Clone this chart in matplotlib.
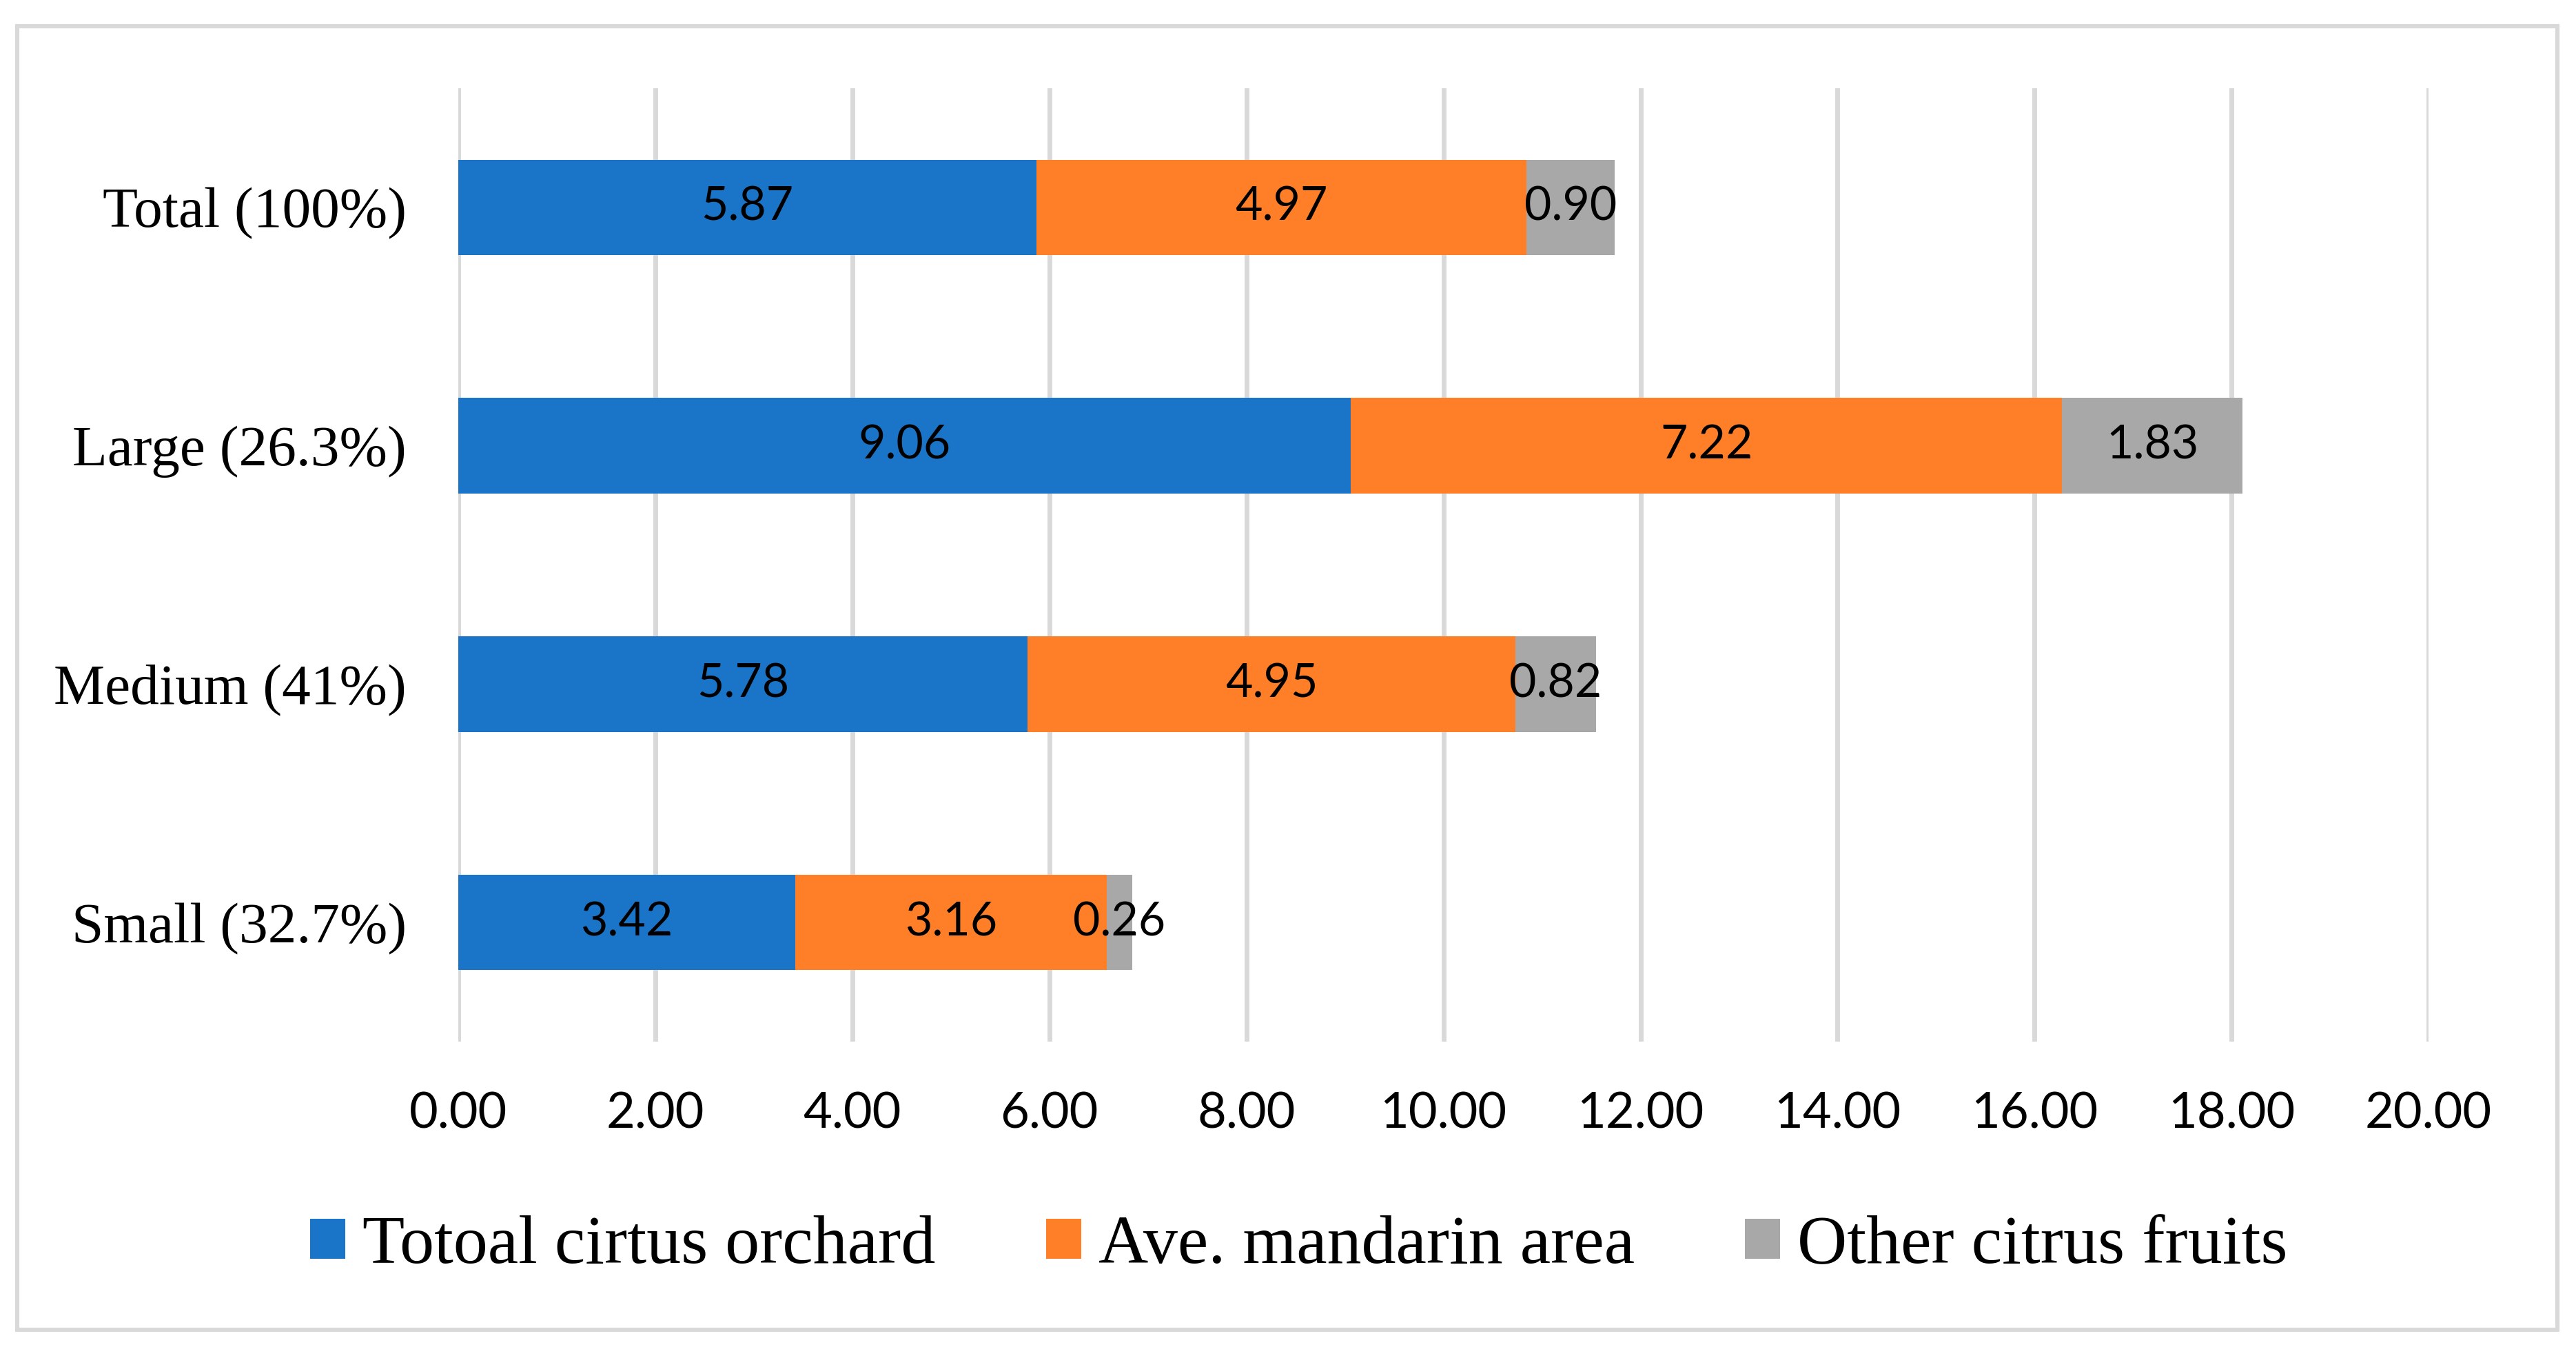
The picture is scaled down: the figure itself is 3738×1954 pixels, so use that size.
import matplotlib
matplotlib.use("Agg")
import matplotlib.pyplot as plt
from matplotlib.patches import Rectangle

categories = ["Small (32.7%)", "Medium (41%)", "Large (26.3%)", "Total (100%)"]
total_orchard = [3.42, 5.78, 9.06, 5.87]
mandarin_area = [3.16, 4.95, 7.22, 4.97]
other_citrus = [0.26, 0.82, 1.83, 0.90]
series_names = ["Totoal cirtus orchard", "Ave. mandarin area", "Other citrus fruits"]
xticks = [0, 2, 4, 6, 8, 10, 12, 14, 16, 18, 20]

blue = "#1A75C9"
orange = "#FE7F27"
grey = "#A8A8A8"
gridgrey = "#D9D9D9"

fig = plt.figure(figsize=(3738 / 200, 1954 / 200), dpi=200)
ax = fig.add_axes([0.1779, 0.2267, 0.7649, 0.7078])

y = list(range(len(categories)))
left2 = [a + b for a, b in zip(total_orchard, mandarin_area)]
h = 0.40
b1 = ax.barh(y, total_orchard, height=h, color=blue, label=series_names[0], zorder=2)
b2 = ax.barh(y, mandarin_area, left=total_orchard, height=h, color=orange, label=series_names[1], zorder=2)
b3 = ax.barh(y, other_citrus, left=left2, height=h, color=grey, label=series_names[2], zorder=2)

for bars in (b1, b2, b3):
    ax.bar_label(bars, fmt="%.2f", label_type="center", fontsize=24.5,
                 family=["Lato", "DejaVu Sans"], color="black", zorder=3)

ax.set_xlim(0, 20)
ax.set_ylim(-0.5, 3.5)
ax.set_xticks(xticks)
ax.set_xticklabels(["%.2f" % v for v in xticks], fontsize=26, family=["Lato", "DejaVu Sans"])
ax.set_yticks(y)
ax.set_yticklabels(categories, fontsize=30, family=["Liberation Serif", "DejaVu Serif"])
ax.tick_params(axis="x", length=0, pad=26)
ax.tick_params(axis="y", length=0, pad=27)
for s in ax.spines.values():
    s.set_visible(False)
for v in xticks:
    ax.axvline(v, color=gridgrey, lw=2.5, zorder=1)

leg = fig.legend(handles=[b1, b2, b3], loc="center", bbox_to_anchor=(0.5042, 0.0745),
                 ncol=3, frameon=False, borderpad=0, handlelength=0.51, handleheight=0.51,
                 handletextpad=0.25, columnspacing=1.6,
                 prop={"family": ["Liberation Serif", "DejaVu Serif"], "size": 36})

# outer chart border
fig.patches.append(Rectangle((25 / 3738, 1 - 1929 / 1954), (3711 - 25) / 3738, (1929 - 37.5) / 1954,
                             transform=fig.transFigure, fill=False, edgecolor=gridgrey, lw=2.2))

fig.savefig("out.png", dpi=200, facecolor="white")
